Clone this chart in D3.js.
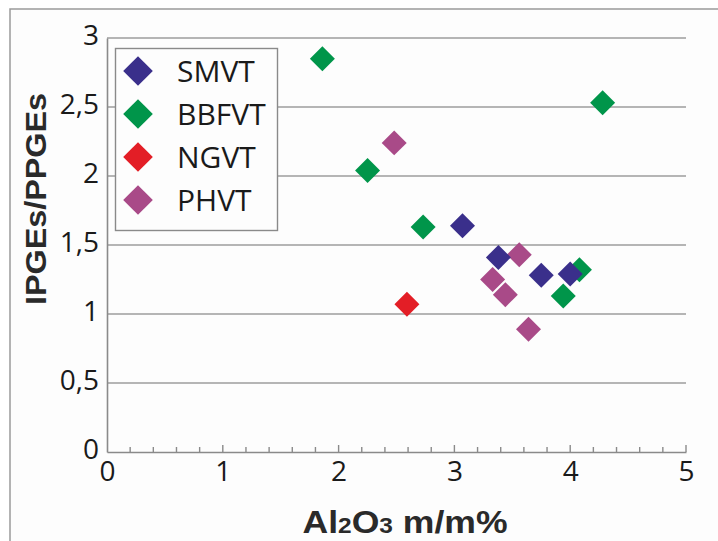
<!DOCTYPE html>
<html lang="en">
<head>
  <meta charset="UTF-8">
  <title>IPGEs/PPGEs vs Al2O3</title>
  <script src="https://d3js.org/d3.v7.min.js"></script>
  <style>
    body { margin: 0; background: #fff; }
    text { font-family: "Open Sans", "Liberation Sans", sans-serif; fill: #1a1a1a; }
    .title { font-family: "Liberation Sans", Arial, sans-serif; font-weight: bold; fill: #2a2a2a; }
  </style>
</head>
<body>
  <script>

    // series values
    var seriesNames = ["SMVT", "BBFVT", "NGVT", "PHVT"];
    var seriesColors = ["#3a2f8b", "#00954a", "#e31e26", "#a94a88"];

    var smvtX = [3.07, 3.38, 3.75, 4.00];
    var smvtY = [1.64, 1.41, 1.28, 1.29];
    var bbfvtX = [1.86, 2.25, 2.73, 4.28, 3.94, 4.08];
    var bbfvtY = [2.85, 2.04, 1.63, 2.53, 1.13, 1.32];
    var ngvtX = [2.59];
    var ngvtY = [1.07];
    var phvtX = [2.48, 3.56, 3.33, 3.44, 3.64];
    var phvtY = [2.24, 1.43, 1.25, 1.14, 0.89];

    var xTicks = [0, 1, 2, 3, 4, 5];
    var yTicks = [0, 0.5, 1, 1.5, 2, 2.5, 3];

    var width = 718, height = 541;
    var plotLeft = 107, plotRight = 686, plotTop = 38, plotBottom = 452;

    var svg = d3.select("body")
      .append("svg")
        .attr("width", width)
        .attr("height", height);

    var x = d3.scaleLinear().domain([0, 5]).range([plotLeft, plotRight]);
    var y = d3.scaleLinear().domain([0, 3]).range([plotBottom, plotTop]);

    // outer frame (only top and left edges are in view)
    svg.append("rect")
      .attr("x", 10).attr("y", 9)
      .attr("width", 760).attr("height", 600)
      .attr("fill", "#fdfdfd")
      .attr("stroke", "#9a9a9a")
      .attr("stroke-width", 1.5);

    // gridlines
    svg.append("g")
      .selectAll("line")
      .data(yTicks.filter(function(d) { return d > 0; }))
      .enter().append("line")
        .attr("x1", plotLeft).attr("x2", plotRight)
        .attr("y1", function(d) { return y(d); })
        .attr("y2", function(d) { return y(d); })
        .attr("stroke", "#9c9c9c")
        .attr("stroke-width", 1.6);

    // y axis
    var yAxis = svg.append("g")
      .attr("transform", "translate(" + plotLeft + ",0)")
      .call(d3.axisLeft(y).tickValues(yTicks).tickSize(0).tickPadding(8)
        .tickFormat(function(d) { return String(d).replace(".", ","); }));
    yAxis.select(".domain").attr("stroke", "#8a8a8a").attr("stroke-width", 1.6);
    yAxis.selectAll("text").attr("font-size", 28).attr("fill", "#1a1a1a")
      .attr("font-family", "Open Sans").attr("dy", "0.22em");

    // x axis with minor ticks pointing up
    var xAxis = svg.append("g")
      .attr("transform", "translate(0," + plotBottom + ")")
      .call(d3.axisBottom(x).tickValues(xTicks).tickSize(0).tickPadding(9)
        .tickFormat(d3.format("d")));
    xAxis.select(".domain").attr("stroke", "#8a8a8a").attr("stroke-width", 1.6);
    xAxis.selectAll("text").attr("font-size", 28).attr("fill", "#1a1a1a")
      .attr("font-family", "Open Sans");

    xAxis.selectAll(".minor")
      .data(x.ticks(25).filter(function(d) { return d > 0; }))
      .enter().append("line")
        .attr("class", "minor")
        .attr("x1", function(d) { return x(d); })
        .attr("x2", function(d) { return x(d); })
        .attr("y1", 0)
        .attr("y2", function(d) { return Math.abs(d - Math.round(d)) < 1e-6 ? -7 : -5; })
        .attr("stroke", "#8a8a8a")
        .attr("stroke-width", 1.4);

    // points (drawn so SMVT ends on top)
    var series = [
      { xs: smvtX, ys: smvtY },
      { xs: bbfvtX, ys: bbfvtY },
      { xs: ngvtX, ys: ngvtY },
      { xs: phvtX, ys: phvtY }
    ];
    var diamond = d3.symbol().type(d3.symbolSquare).size(312);
    var legendDiamond = d3.symbol().type(d3.symbolSquare).size(440);

    series.forEach(function(ser, s) { ser.color = seriesColors[s]; });
    series.slice().reverse().forEach(function(ser) {
      var pts = ser.xs.map(function(v, i) { return [v, ser.ys[i]]; });
      svg.append("g")
        .selectAll("path")
        .data(pts)
        .enter().append("path")
          .attr("d", diamond)
          .attr("transform", function(d) {
            return "translate(" + x(d[0]) + "," + y(d[1]) + ") rotate(45)";
          })
          .attr("fill", ser.color);
    });

    // legend
    var legend = svg.append("g");
    legend.append("rect")
      .attr("x", 115.5).attr("y", 48.5)
      .attr("width", 162).attr("height", 182)
      .attr("fill", "#fdfdfd")
      .attr("stroke", "#8a8a8a")
      .attr("stroke-width", 1.4);

    var items = legend.selectAll(".item")
      .data(seriesNames)
      .enter().append("g")
        .attr("class", "item")
        .attr("transform", function(d, i) { return "translate(138," + (71 + i * 43) + ")"; });
    items.append("path")
      .attr("d", legendDiamond)
      .attr("transform", "rotate(45)")
      .attr("fill", function(d, i) { return seriesColors[i]; });
    items.append("text")
      .attr("x", 39)
      .attr("y", 11)
      .attr("font-size", 30)
      .text(function(d) { return d; });

    // axis titles
    svg.append("text")
      .attr("class", "title")
      .attr("transform", "translate(46,199) rotate(-90)")
      .attr("text-anchor", "middle")
      .attr("font-size", 29)
      .attr("textLength", 212)
      .attr("lengthAdjust", "spacingAndGlyphs")
      .text("IPGEs/PPGEs");

    var xt = svg.append("text")
      .attr("class", "title")
      .attr("x", 405)
      .attr("y", 533)
      .attr("text-anchor", "middle")
      .attr("font-size", 32)
      .attr("textLength", 205)
      .attr("lengthAdjust", "spacingAndGlyphs");
    xt.append("tspan").text("Al");
    xt.append("tspan").attr("font-size", 22).text("2");
    xt.append("tspan").text("O");
    xt.append("tspan").attr("font-size", 22).text("3");
    xt.append("tspan").text(" m/m%");

  </script>
</body>
</html>
